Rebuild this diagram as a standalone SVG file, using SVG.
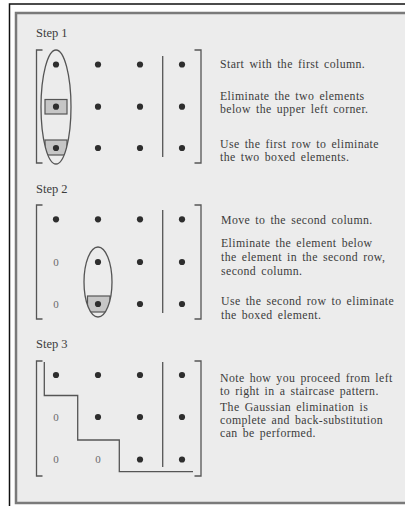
<svg xmlns="http://www.w3.org/2000/svg" width="405" height="506" viewBox="0 0 405 506">
<style>
.t{font-family:"Liberation Serif","Times New Roman",serif;font-size:11.8px;letter-spacing:0.4px;word-spacing:1.8px;fill:#3c3c3c}
.s{font-family:"Liberation Serif","Times New Roman",serif;font-size:12.5px;fill:#3c3c3c}
.z{font-family:"Liberation Serif","Times New Roman",serif;font-size:11px;fill:#6a6a6a;text-anchor:middle}
.ln{fill:none;stroke:#555;stroke-width:1.3}
.br{fill:none;stroke:#555;stroke-width:1.3}
.d{fill:#2e2e2e}
.bx{fill:#c6c6c6;stroke:#555;stroke-width:1.2}
</style>
<defs>
<circle id="dot" r="3.1" class="d"/>
<clipPath id="c1"><ellipse cx="56" cy="107" rx="15" ry="57"/></clipPath>
<clipPath id="c2"><ellipse cx="98" cy="282" rx="14" ry="35"/></clipPath>
</defs>
<rect x="0" y="0" width="405" height="506" fill="#ffffff"/>
<path d="M9.5 506 V4 H405" fill="none" stroke="#111" stroke-width="1.5"/>
<rect x="16" y="13" width="400" height="490" fill="#ececec" stroke="#7a7a7a" stroke-width="2.5"/>

<g id="step1">
<text class="s" x="36" y="37">Step 1</text>
<path class="br" d="M42.5 50 H36.5 V163 H42.5"/>
<path class="br" d="M194.5 50 H201 V163 H194.5"/>
<line class="ln" x1="162.7" y1="56" x2="162.7" y2="157"/>
<g clip-path="url(#c1)">
<rect class="bx" x="45" y="140" width="22" height="15"/>
</g>
<rect class="bx" x="45" y="99.5" width="22" height="14.5"/>
<ellipse class="ln" cx="56" cy="107" rx="15" ry="57"/>
<use href="#dot" x="56" y="64.5"/><use href="#dot" x="98" y="64.5"/><use href="#dot" x="140" y="64.5"/><use href="#dot" x="182" y="64.5"/>
<use href="#dot" x="56" y="106.7"/><use href="#dot" x="98" y="106.7"/><use href="#dot" x="140" y="106.7"/><use href="#dot" x="182" y="106.7"/>
<use href="#dot" x="56" y="148"/><use href="#dot" x="98" y="148"/><use href="#dot" x="140" y="148"/><use href="#dot" x="182" y="148"/>
<text class="t" x="220" y="68">Start with the first column.</text>
<text class="t" x="220" y="99.8">Eliminate the two elements</text>
<text class="t" x="220" y="113">below the upper left corner.</text>
<text class="t" x="220" y="147.8">Use the first row to eliminate</text>
<text class="t" x="220" y="161">the two boxed elements.</text>
</g>

<g id="step2">
<text class="s" x="36" y="192.5">Step 2</text>
<path class="br" d="M42.5 205 H36.5 V319 H42.5"/>
<path class="br" d="M194.5 205 H201 V319 H194.5"/>
<line class="ln" x1="162.7" y1="210" x2="162.7" y2="313"/>
<g clip-path="url(#c2)">
<rect class="bx" x="87.5" y="296" width="22.5" height="16"/>
</g>
<ellipse class="ln" cx="98" cy="282" rx="14" ry="35"/>
<use href="#dot" x="56" y="219.3"/><use href="#dot" x="98" y="219.3"/><use href="#dot" x="140" y="219.3"/><use href="#dot" x="182" y="219.3"/>
<text class="z" x="56" y="265.8">0</text><use href="#dot" x="98" y="262"/><use href="#dot" x="140" y="262"/><use href="#dot" x="182" y="262"/>
<text class="z" x="56" y="307.8">0</text><use href="#dot" x="98" y="304"/><use href="#dot" x="140" y="304"/><use href="#dot" x="182" y="304"/>
<text class="t" x="221" y="224">Move to the second column.</text>
<text class="t" x="221" y="247">Eliminate the element below</text>
<text class="t" x="221" y="261">the element in the second row,</text>
<text class="t" x="221" y="275">second column.</text>
<text class="t" x="221" y="305">Use the second row to eliminate</text>
<text class="t" x="221" y="319">the boxed element.</text>
</g>

<g id="step3">
<text class="s" x="36" y="347.5">Step 3</text>
<path class="br" d="M42.5 361 H36.5 V476 H42.5"/>
<path class="br" d="M194.5 361 H201 V476 H194.5"/>
<line class="ln" x1="162.7" y1="362" x2="162.7" y2="467"/>
<path class="ln" d="M44.3 362 V395.5 H77.7 V440 H119.3 V471.7 H193"/>
<use href="#dot" x="56" y="375"/><use href="#dot" x="98" y="375"/><use href="#dot" x="140" y="375"/><use href="#dot" x="182" y="375"/>
<text class="z" x="56" y="420.8">0</text><use href="#dot" x="98" y="417"/><use href="#dot" x="140" y="417"/><use href="#dot" x="182" y="417"/>
<text class="z" x="56" y="463.3">0</text><text class="z" x="98" y="463.3">0</text><use href="#dot" x="140" y="459.5"/><use href="#dot" x="182" y="459.5"/>
<text class="t" x="220" y="382">Note how you proceed from left</text>
<text class="t" x="220" y="395.2">to right in a staircase pattern.</text>
<text class="t" x="220" y="410.8">The Gaussian elimination is</text>
<text class="t" x="220" y="424">complete and back-substitution</text>
<text class="t" x="220" y="437.2">can be performed.</text>
</g>
</svg>
